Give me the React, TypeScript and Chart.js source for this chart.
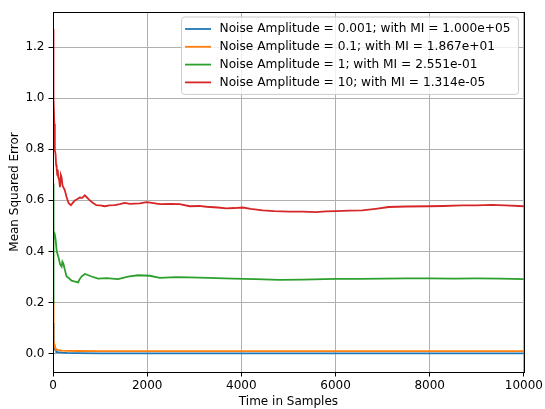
import React, { useEffect, useRef } from "react";
import { Chart, registerables } from "chart.js";

Chart.register(...registerables);

const xTicks = [0, 2000, 4000, 6000, 8000, 10000];
const yTicks = [0.0, 0.2, 0.4, 0.6, 0.8, 1.0, 1.2];

const seriesLabels = [
  "Noise Amplitude = 0.001; with MI = 1.000e+05",
  "Noise Amplitude = 0.1; with MI = 1.867e+01",
  "Noise Amplitude = 1; with MI = 2.551e-01",
  "Noise Amplitude = 10; with MI = 1.314e-05",
];
const seriesColors = ["#1f77b4", "#ff7f0e", "#2ca02c", "#d62728"];

const blueX = [0, 5, 10, 20, 30, 45, 60, 80, 100, 150, 200, 300, 500, 1000, 2000, 4000, 6000, 8000, 10000];
const blueY = [0.12, 0.08, 0.05, 0.03, 0.02, 0.014, 0.01, 0.008, 0.006, 0.005, 0.004, 0.003, 0.002, 0.0015, 0.0012, 0.001, 0.001, 0.001, 0.001];

const orangeX = [0, 5, 10, 20, 30, 42, 60, 77, 100, 183, 300, 500, 1000, 2000, 4000, 6000, 8000, 10000];
const orangeY = [0.2, 0.12, 0.08, 0.05, 0.035, 0.025, 0.02, 0.016, 0.015, 0.012, 0.011, 0.0105, 0.0102, 0.0101, 0.01, 0.01, 0.01, 0.01];

const greenX = [0, 4, 10, 20, 35, 56, 80, 112, 150, 183, 200, 218, 250, 288, 340, 394, 450, 535, 560, 605, 676, 740, 817, 958, 1134, 1381, 1592, 1803, 2058, 2268, 2600, 2903, 3300, 3819, 4300, 4806, 5300, 6004, 6500, 7000, 7500, 8000, 8500, 9000, 9500, 10000];
const greenY = [0.2, 0.667, 0.5, 0.48, 0.47, 0.445, 0.4, 0.38, 0.35, 0.341, 0.36, 0.354, 0.33, 0.302, 0.295, 0.286, 0.283, 0.279, 0.29, 0.302, 0.312, 0.308, 0.302, 0.294, 0.296, 0.292, 0.302, 0.307, 0.305, 0.297, 0.3, 0.299, 0.297, 0.294, 0.292, 0.289, 0.29, 0.293, 0.293, 0.294, 0.295, 0.295, 0.294, 0.295, 0.294, 0.292];

const redX = [0, 3, 6, 12, 20, 28, 35, 42, 55, 65, 77, 90, 100, 112, 130, 148, 165, 183, 200, 218, 250, 288, 330, 380, 420, 465, 520, 570, 620, 676, 730, 782, 850, 922, 1000, 1099, 1200, 1310, 1420, 1522, 1634, 1734, 1846, 1987, 2100, 2268, 2500, 2691, 2903, 3100, 3256, 3500, 3679, 3850, 4030, 4200, 4453, 4700, 5017, 5300, 5581, 5800, 6004, 6300, 6567, 6850, 7131, 7500, 7977, 8300, 8681, 9000, 9315, 9600, 10000];
const redY = [1.27, 1.2, 1.05, 0.95, 1.0, 0.9, 0.85, 0.795, 0.78, 0.74, 0.73, 0.7, 0.72, 0.69, 0.68, 0.652, 0.7, 0.69, 0.66, 0.652, 0.64, 0.613, 0.59, 0.581, 0.59, 0.6, 0.605, 0.611, 0.61, 0.62, 0.61, 0.6, 0.59, 0.581, 0.58, 0.577, 0.58, 0.581, 0.585, 0.59, 0.586, 0.587, 0.588, 0.593, 0.59, 0.585, 0.586, 0.585, 0.577, 0.578, 0.575, 0.572, 0.569, 0.57, 0.572, 0.567, 0.561, 0.558, 0.556, 0.556, 0.554, 0.557, 0.558, 0.56, 0.561, 0.567, 0.574, 0.576, 0.577, 0.578, 0.58, 0.58, 0.582, 0.58, 0.577];

const seriesX = [blueX, orangeX, greenX, redX];
const seriesY = [blueY, orangeY, greenY, redY];

const FONT = "'DejaVu Sans', sans-serif";
const FS = 12;
const LFS = 12.2;

const framePlugin = {
  id: "frameAndLegend",
  afterDraw(chart: any) {
    const ctx = chart.ctx;
    const a = chart.chartArea;
    ctx.save();
    ctx.strokeStyle = "#000";
    ctx.lineWidth = 1;
    ctx.strokeRect(Math.round(a.left) + 0.5, Math.round(a.top) + 0.5, Math.round(a.right - a.left), Math.round(a.bottom - a.top));

    // legend
    ctx.font = `${LFS}px ${FONT}`;
    let tw = 0;
    seriesLabels.forEach((s) => (tw = Math.max(tw, ctx.measureText(s).width)));
    const rowH = 17.8;
    const boxW = 38 + tw + 8;
    const boxH = rowH * 3 + 24;
    const bx = a.right - 5.5 - boxW;
    const by = a.top + 5;
    const r = 3;
    ctx.beginPath();
    ctx.moveTo(bx + r, by);
    ctx.lineTo(bx + boxW - r, by);
    ctx.quadraticCurveTo(bx + boxW, by, bx + boxW, by + r);
    ctx.lineTo(bx + boxW, by + boxH - r);
    ctx.quadraticCurveTo(bx + boxW, by + boxH, bx + boxW - r, by + boxH);
    ctx.lineTo(bx + r, by + boxH);
    ctx.quadraticCurveTo(bx, by + boxH, bx, by + boxH - r);
    ctx.lineTo(bx, by + r);
    ctx.quadraticCurveTo(bx, by, bx + r, by);
    ctx.closePath();
    ctx.fillStyle = "rgba(255,255,255,0.8)";
    ctx.fill();
    ctx.strokeStyle = "#cccccc";
    ctx.lineWidth = 1;
    ctx.stroke();
    seriesLabels.forEach((s, i) => {
      const cy = by + 12 + i * rowH;
      ctx.strokeStyle = seriesColors[i];
      ctx.lineWidth = 1.8;
      ctx.beginPath();
      ctx.moveTo(bx + 3.5, cy);
      ctx.lineTo(bx + 29.5, cy);
      ctx.stroke();
      ctx.fillStyle = "#000";
      ctx.textBaseline = "middle";
      ctx.textAlign = "left";
      ctx.fillText(s, bx + 38, cy);
    });
    ctx.restore();
  },
};

export default function App() {
  const ref = useRef<HTMLCanvasElement>(null);
  useEffect(() => {
    Chart.defaults.font.family = FONT;
    Chart.defaults.font.size = FS;
    Chart.defaults.color = "#000";
    const chart = new Chart(ref.current!, {
      type: "line",
      data: {
        datasets: seriesLabels.map((label, i) => ({
          label,
          data: seriesX[i].map((x, j) => ({ x, y: seriesY[i][j] })),
          borderColor: seriesColors[i],
          backgroundColor: seriesColors[i],
          borderWidth: 1.8,
          pointRadius: 0,
          tension: 0,
          order: 3 - i,
        })),
      },
      options: {
        responsive: false,
        animation: false,
        devicePixelRatio: 1,
        layout: { padding: { left: 0, right: 19, top: 12, bottom: 0 } },
        plugins: { legend: { display: false }, tooltip: { enabled: false } },
        scales: {
          x: {
            type: "linear",
            min: 0,
            max: 10000,
            afterBuildTicks: (s: any) => {
              s.ticks = xTicks.map((v) => ({ value: v }));
            },
            afterFit: (s: any) => {
              s.height = 37;
            },
            ticks: {
              callback: (v: any) => String(v),
              maxRotation: 0,
              autoSkip: false,
              padding: 2,
              color: "#000",
            },
            grid: { color: "#b0b0b0", lineWidth: 1, tickColor: "#000", tickLength: 4.5 },
            border: { display: false },
            title: { display: true, text: "Time in Samples", color: "#000", padding: { top: 0, bottom: 0 } },
          },
          y: {
            type: "linear",
            min: -0.0716,
            max: 1.337,
            afterBuildTicks: (s: any) => {
              s.ticks = yTicks.map((v) => ({ value: v }));
            },
            afterFit: (s: any) => {
              s.width = 53;
            },
            ticks: {
              callback: (v: any) => Number(v).toFixed(1),
              autoSkip: false,
              padding: 4,
              color: "#000",
            },
            grid: { color: "#b0b0b0", lineWidth: 1, tickColor: "#000", tickLength: 4.5 },
            border: { display: false },
            title: { display: true, text: "Mean Squared Error", color: "#000", padding: { top: 8, bottom: 0 } },
          },
        },
      },
      plugins: [framePlugin],
    });
    return () => chart.destroy();
  }, []);
  return (
    <div style={{ position: "absolute", left: 0, top: 0, width: 545, height: 409, background: "#fff" }}>
      <canvas ref={ref} width={545} height={409} style={{ width: 545, height: 409 }} />
    </div>
  );
}
